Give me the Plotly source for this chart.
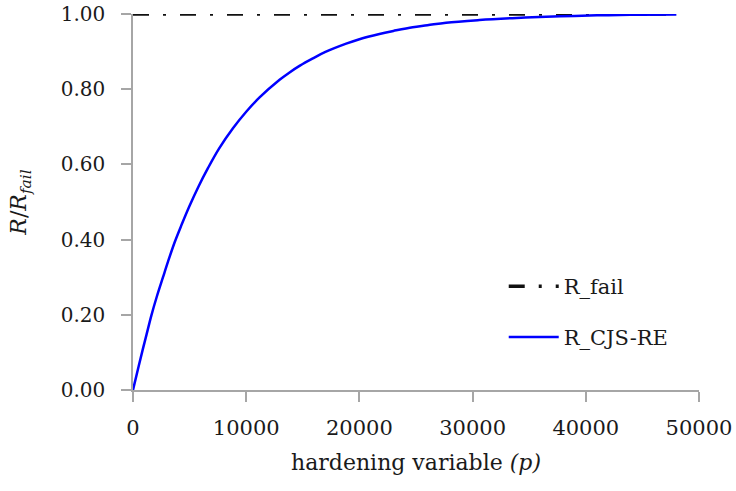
import plotly.graph_objects as go

# Data
p_values = [0, 500, 880, 1200, 1620, 2100, 2650, 3100, 3680, 4300, 5000, 5800,
            6620, 7600, 8830, 10000, 11180, 12950, 13800, 14710, 15890, 17000,
            18830, 20000, 21770, 23000, 24710, 26000, 27660, 30600, 33500,
            36500, 39000, 42000, 45000, 48000]
r_cjs_re = [0.0, 0.063, 0.11, 0.148, 0.198, 0.248, 0.30, 0.342, 0.393, 0.44,
            0.49, 0.542, 0.59, 0.642, 0.696, 0.74, 0.778, 0.825, 0.844, 0.862,
            0.882, 0.899, 0.921, 0.933, 0.947, 0.955, 0.965, 0.97, 0.977,
            0.984, 0.989, 0.993, 0.995, 0.997, 0.998, 0.999]
p_fail = [0, 48000]
r_fail = [1.0, 1.0]

x_ticks = [0, 10000, 20000, 30000, 40000, 50000]
y_ticks = [0.0, 0.2, 0.4, 0.6, 0.8, 1.0]

FONT = "DejaVu Serif"

fig = go.Figure()
fig.add_trace(go.Scatter(
    x=p_fail, y=r_fail, mode="lines", name="R_fail",
    line=dict(color="#111111", width=3.5, dash="16px,14px,3px,14px"),
    cliponaxis=False, legend="legend"))
fig.add_trace(go.Scatter(
    x=p_values, y=r_cjs_re, mode="lines", name="R_CJS-RE",
    line=dict(color="#0000ff", width=2.5, shape="spline", smoothing=1.0),
    cliponaxis=False, legend="legend2"))

fig.update_layout(
    width=736, height=491,
    margin=dict(l=133, r=37, t=14, b=101, autoexpand=False),
    paper_bgcolor="white", plot_bgcolor="white",
    font=dict(family=FONT, size=19, color="#1a1a1a"),
    showlegend=True,
    legend=dict(x=0.655, y=0.275, xanchor="left", yanchor="middle",
                bgcolor="rgba(0,0,0,0)", itemwidth=50,
                font=dict(family=FONT, size=21)),
    legend2=dict(x=0.655, y=0.14, xanchor="left", yanchor="middle",
                 bgcolor="rgba(0,0,0,0)", itemwidth=50,
                 font=dict(family=FONT, size=21)),
)
fig.update_xaxes(
    range=[0, 50000], tickvals=x_ticks, ticktext=[str(v) for v in x_ticks],
    showline=True, linecolor="#a6a6a6", linewidth=1.5, automargin=False,
    ticks="outside", ticklen=10, tickcolor="#a6a6a6", tickwidth=1.5,
    showgrid=False, zeroline=False, ticklabelstandoff=8,
    ticklabeloverflow="allow",
    tickfont=dict(family=FONT, size=21),
    title=dict(text="hardening variable <i>(p)</i>", standoff=16,
               font=dict(family=FONT, size=22)))
fig.update_yaxes(
    range=[0, 1.0], tickvals=y_ticks, ticktext=[f"{v:.2f}" for v in y_ticks],
    showline=True, linecolor="#a6a6a6", linewidth=1.5, automargin=False,
    ticks="outside", ticklen=10, tickcolor="#a6a6a6", tickwidth=1.5,
    showgrid=False, zeroline=False, ticklabelstandoff=12,
    ticklabeloverflow="allow",
    tickfont=dict(family=FONT, size=20),
    title=dict(text="<i>R</i>/<i>R</i><sub><i>fail</i></sub>", standoff=28,
               font=dict(family=FONT, size=22)))

fig.write_html(
    "out.html",
    config={"displayModeBar": False},
    post_script="document.body.style.margin='0';"
                "document.body.style.overflow='hidden';")
